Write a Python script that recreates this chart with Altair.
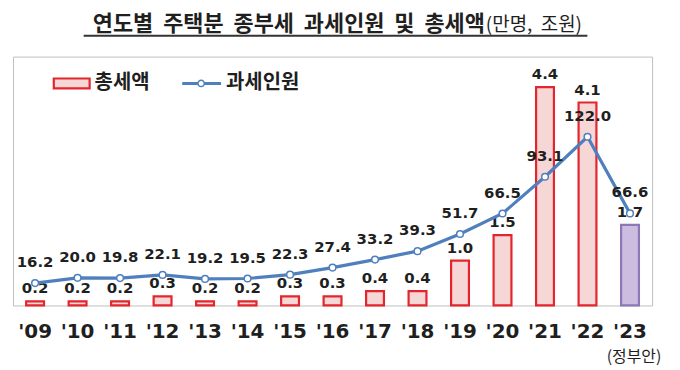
import altair as alt
import pandas as pd

# ---- data ----
years = ["'09", "'10", "'11", "'12", "'13", "'14", "'15", "'16",
         "'17", "'18", "'19", "'20", "'21", "'22", "'23"]
tax_amount = [0.2, 0.2, 0.2, 0.3, 0.2, 0.2, 0.3, 0.3,
              0.4, 0.4, 1.0, 1.5, 4.4, 4.1, 1.7]          # 총세액 (조원)
taxpayers = [16.2, 20.0, 19.8, 22.1, 19.2, 19.5, 22.3, 27.4,
             33.2, 39.3, 51.7, 66.5, 93.1, 122.0, 66.6]    # 과세인원 (만명)

GAP = " \u00a0"
title_main = GAP.join(["연도별", "주택분", "종부세", "과세인원", "및", "총세액"])
title_unit = "(만명,\u00a0 조원)"
legend_bar = "총세액"
legend_line = "과세인원"
note_2023 = "(정부안)"

df = pd.DataFrame({"year": years, "amount": tax_amount, "people": taxpayers})
one = pd.DataFrame({"k": [0]})
note_df = pd.DataFrame({"year": ["'23"], "t": [note_2023]})

RED = "#e3262d"
PINK = "#f7d6d6"
PURPLE_FILL = "#cbbde0"
PURPLE_STROKE = "#8c78b6"
BLUE = "#4f7fbd"
TXT = "#1f1f1f"
NUM_FONT = "DejaVu Sans"
KR_FONT = "Noto Sans CJK KR"

xscale = alt.Scale(domain=years, paddingInner=0.58, paddingOuter=0.31)
xaxis = alt.Axis(title=None, labelAngle=0, ticks=False, domain=False,
                 labelFont=NUM_FONT, labelFontWeight="bold", labelFontSize=20,
                 labelColor=TXT, labelPadding=16, grid=False)


def X(center=False):
    if center:
        return alt.X("year:N", scale=xscale, axis=xaxis, sort=years, bandPosition=0.5)
    return alt.X("year:N", scale=xscale, axis=xaxis, sort=years)


ybar = alt.Y("amount:Q", scale=alt.Scale(domain=[0.12, 5.0], zero=False, nice=False), axis=None)
yline = alt.Y("people:Q", scale=alt.Scale(domain=[0, 180], nice=False), axis=None)

is23 = alt.datum.year == "'23"

bars = alt.Chart(df).mark_bar(strokeWidth=2.2).encode(
    x=X(),
    y=ybar,
    y2=alt.datum(0.12),
    fill=alt.condition(is23, alt.value(PURPLE_FILL), alt.value(PINK)),
    stroke=alt.condition(is23, alt.value(PURPLE_STROKE), alt.value(RED)),
)
bar_labels = alt.Chart(df).mark_text(
    font=NUM_FONT, fontWeight="bold", fontSize=15, color=TXT, baseline="middle", dy=-13
).encode(x=X(True), y=ybar, text=alt.Text("amount:Q", format=".1f"))

bar_group = alt.layer(bars, bar_labels)

line = alt.Chart(df).mark_line(color=BLUE, strokeWidth=3.2).encode(x=X(True), y=yline)
pts = alt.Chart(df).mark_point(filled=True, fill="white", stroke=BLUE, strokeWidth=1.5,
                               size=45, opacity=1).encode(x=X(True), y=yline)
line_labels = alt.Chart(df).mark_text(
    font=NUM_FONT, fontWeight="bold", fontSize=15, color=TXT, baseline="middle", dy=-21
).encode(x=X(True), y=yline, text=alt.Text("people:Q", format=".1f"))

line_group = alt.layer(line, pts, line_labels)

note = alt.Chart(note_df).mark_text(
    font=KR_FONT, fontSize=16, color=TXT, baseline="middle", dx=4
).encode(x=X(True), y=alt.value(302), text="t:N")

# legend (inside plot, top-left)
leg_rect = alt.Chart(one).mark_rect(fill=PINK, stroke=RED, strokeWidth=2.2).encode(
    x=alt.value(41), x2=alt.value(77), y=alt.value(22), y2=alt.value(32))
leg_t1 = alt.Chart(one).mark_text(font=KR_FONT, fontWeight="bold", fontSize=20, color=TXT,
                                  align="left", baseline="middle").encode(
    x=alt.value(82), y=alt.value(27), text=alt.value(legend_bar))
leg_line = alt.Chart(one).mark_rule(color=BLUE, strokeWidth=3).encode(
    x=alt.value(170), x2=alt.value(209), y=alt.value(27))
leg_pt = alt.Chart(one).mark_point(filled=True, fill="white", stroke=BLUE, strokeWidth=1.5,
                                   size=40, opacity=1).encode(x=alt.value(189), y=alt.value(27))
leg_t2 = alt.Chart(one).mark_text(font=KR_FONT, fontWeight="bold", fontSize=20, color=TXT,
                                  align="left", baseline="middle").encode(
    x=alt.value(214), y=alt.value(27), text=alt.value(legend_line))

# title
t_main = alt.Chart(one).mark_text(font=KR_FONT, fontWeight="bold", fontSize=22, color=TXT,
                                  align="right", baseline="middle").encode(
    x=alt.value(474), y=alt.value(-33), text=alt.value(title_main))
t_unit = alt.Chart(one).mark_text(font=KR_FONT, fontSize=19, color=TXT,
                                  align="left", baseline="middle").encode(
    x=alt.value(475), y=alt.value(-32), text=alt.value(title_unit))
t_line = alt.Chart(one).mark_rule(color="#333333", strokeWidth=2).encode(
    x=alt.value(71), x2=alt.value(577), y=alt.value(-21))

chart = alt.layer(
    bar_group, line_group, note,
    leg_rect, leg_t1, leg_line, leg_pt, leg_t2,
    t_main, t_unit, t_line,
).resolve_scale(y="independent").properties(
    width=642, height=250,
    autosize=alt.AutoSizeParams(type="none"),
    padding={"left": 5, "top": 48, "right": 20, "bottom": 60},
).configure_view(stroke="#bfbfbf", strokeWidth=1)

chart.save("out.html", embed_options={"renderer": "svg", "actions": False})
